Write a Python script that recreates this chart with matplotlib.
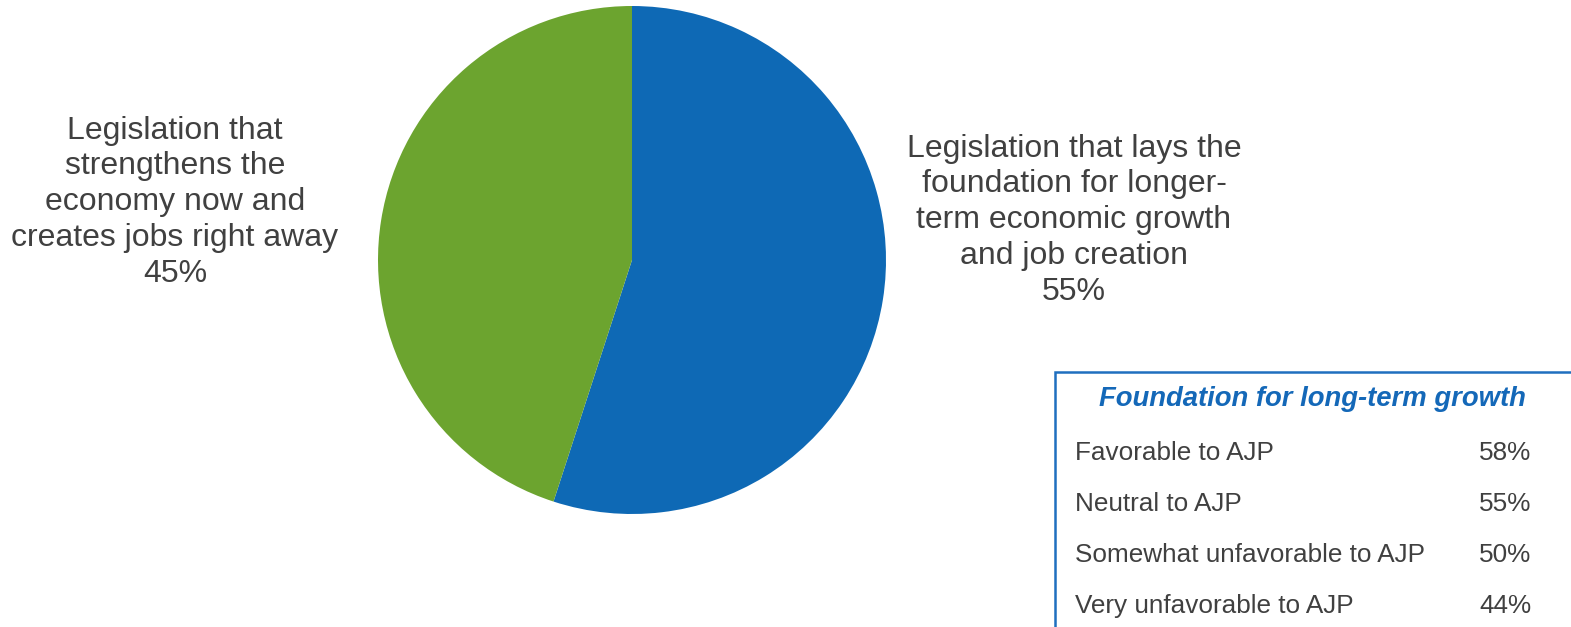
import matplotlib.pyplot as plt
from matplotlib.patches import Rectangle

plt.rcParams['font.family'] = ['Liberation Sans', 'DejaVu Sans']

# pie data
slice_labels = ['Legislation that lays the\nfoundation for longer-\nterm economic growth\nand job creation\n55%',
                'Legislation that\nstrengthens the\neconomy now and\ncreates jobs right away\n45%']
slice_values = [55, 45]
slice_colors = ['#0E69B5', '#6CA42F']

# side table
table_title = 'Foundation for long-term growth'
table_rows = ['Favorable to AJP', 'Neutral to AJP', 'Somewhat unfavorable to AJP', 'Very unfavorable to AJP']
table_values = [58, 55, 50, 44]

W, H = 1571, 627
fig = plt.figure(figsize=(W / 100, H / 100), dpi=100)

# pie axes placed by pixel center/radius
cx, cy, r = 632, 260, 254
ax = fig.add_axes([(cx - r) / W, 1 - (cy + r) / H, 2 * r / W, 2 * r / H])
ax.pie(slice_values, colors=slice_colors, startangle=90, counterclock=False,
       radius=1.0, wedgeprops=dict(linewidth=0))
ax.set_xlim(-1, 1)
ax.set_ylim(-1, 1)
ax.set_aspect('auto')
ax.axis('off')

txt_color = '#404040'
fig.text(1074 / W, 1 - 220 / H, slice_labels[0], ha='center', va='center',
         fontsize=23, color=txt_color, linespacing=1.25)
fig.text(175 / W, 1 - 202 / H, slice_labels[1], ha='center', va='center',
         fontsize=23, color=txt_color, linespacing=1.25)

# box around the table
box = Rectangle((1055 / W, -0.1), 0.5, 1 - 372 / H + 0.1, transform=fig.transFigure,
                fill=False, edgecolor='#1F6FBF', linewidth=1.8)
fig.add_artist(box)

fig.text(1312 / W, 1 - 399 / H, table_title, ha='center', va='center', fontsize=19.8,
         color='#1468B8', fontweight='bold', fontstyle='italic')
row_y = [453, 504, 555, 606]
for name, val, y in zip(table_rows, table_values, row_y):
    fig.text(1075 / W, 1 - y / H, name, ha='left', va='center', fontsize=18.8, color=txt_color)
    fig.text(1531 / W, 1 - y / H, f'{val}%', ha='right', va='center', fontsize=18.8, color=txt_color)

fig.savefig('out.png', dpi=100)
